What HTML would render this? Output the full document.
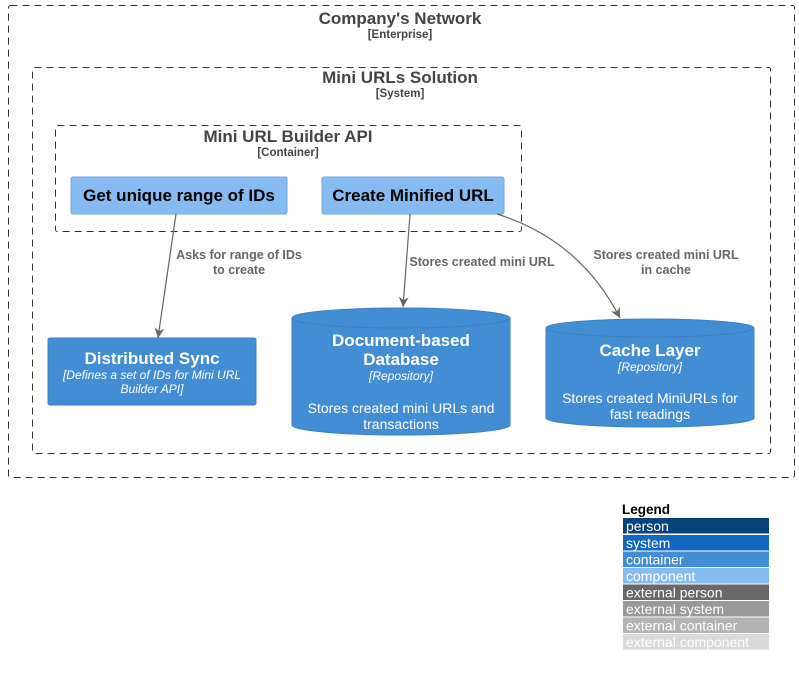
<!DOCTYPE html>
<html><head><style>body{margin:0;background:#fff}svg{display:block}text{font-family:"Liberation Sans","DejaVu Sans",sans-serif}</style></head><body>
<svg width="799" height="675" viewBox="0 0 799 675" xmlns="http://www.w3.org/2000/svg">
<defs><marker id="a" markerWidth="12" markerHeight="12" refX="10" refY="5" orient="auto" markerUnits="userSpaceOnUse"><path d="M0,0 L10,5 L0,10 L3,5 Z" fill="#666"/></marker></defs>
<g fill="none" stroke="#333" stroke-dasharray="7,5">
<rect x="8.5" y="5.5" width="786" height="472" rx="2"/>
<rect x="32.5" y="67.5" width="738" height="386" rx="2"/>
<rect x="55.5" y="125.5" width="466" height="106" rx="2"/>
</g>
<g fill="#444" text-anchor="middle" font-weight="bold">
<text x="400" y="24" font-size="17">Company's Network</text>
<text x="400" y="38" font-size="11.5">[Enterprise]</text>
<text x="400" y="83" font-size="17">Mini URLs Solution</text>
<text x="400" y="97" font-size="11.5">[System]</text>
<text x="288" y="142" font-size="17">Mini URL Builder API</text>
<text x="288" y="156" font-size="11.5">[Container]</text>
</g>
<rect x="71" y="177" width="216" height="37" rx="2" fill="#85bbf0" stroke="#78a8d8"/>
<rect x="322" y="177" width="182" height="37" rx="2" fill="#85bbf0" stroke="#78a8d8"/>
<g font-weight="bold" font-size="17" text-anchor="middle" fill="#000">
<text x="179" y="201">Get unique range of IDs</text>
<text x="413" y="201">Create Minified URL</text>
</g>
<rect x="48" y="338" width="208" height="67" rx="2" fill="#438dd5" stroke="#3c7fc0"/>
<path d="M292,318 L292,425 A109,10 0 0 0 510,425 L510,318 A109,10 0 0 0 292,318 Z" fill="#438dd5" stroke="#3c7fc0"/>
<path d="M292,318 A109,10 0 0 0 510,318" fill="none" stroke="#3c7fc0"/>
<path d="M546,328 L546,418 A104,9 0 0 0 754,418 L754,328 A104,9 0 0 0 546,328 Z" fill="#438dd5" stroke="#3c7fc0"/>
<path d="M546,328 A104,9 0 0 0 754,328" fill="none" stroke="#3c7fc0"/>
<g fill="#fff" text-anchor="middle">
<text x="152" y="364" font-size="17" font-weight="bold">Distributed Sync</text>
<text x="152" y="379" font-size="12" font-style="italic">[Defines a set of IDs for Mini URL</text>
<text x="152" y="393" font-size="12" font-style="italic">Builder API]</text>
<text x="401" y="346" font-size="17" font-weight="bold">Document-based</text>
<text x="401" y="365" font-size="17" font-weight="bold">Database</text>
<text x="401" y="380" font-size="12" font-style="italic">[Repository]</text>
<text x="401" y="413" font-size="14">Stores created mini URLs and</text>
<text x="401" y="429" font-size="14">transactions</text>
<text x="650" y="356" font-size="17" font-weight="bold">Cache Layer</text>
<text x="650" y="371" font-size="12" font-style="italic">[Repository]</text>
<text x="650" y="403" font-size="14">Stores created MiniURLs for</text>
<text x="650" y="419" font-size="14">fast readings</text>
</g>
<g stroke="#666" fill="none" stroke-width="1.2" marker-end="url(#a)">
<path d="M176,214 L158,338"/>
<path d="M410,214 L403,307"/>
<path d="M497,214 Q580,240 620,318"/>
</g>
<g fill="#666" font-size="12.5" font-weight="bold" text-anchor="middle">
<text x="239" y="259">Asks for range of IDs</text>
<text x="239" y="274">to create</text>
<text x="482" y="266">Stores created mini URL</text>
<text x="666" y="259">Stores created mini URL</text>
<text x="666" y="274">in cache</text>
</g>
<text x="622" y="514" font-size="13.5" font-weight="bold" fill="#000">Legend</text>
<g font-size="14" fill="#fff">
<rect x="623" y="518" width="146" height="15.5" fill="#08427b"/><text x="626" y="531">person</text>
<rect x="623" y="535" width="146" height="15.5" fill="#1168bd"/><text x="626" y="548">system</text>
<rect x="623" y="551.5" width="146" height="15.5" fill="#438dd5"/><text x="626" y="564.5">container</text>
<rect x="623" y="568" width="146" height="15.5" fill="#85bbf0"/><text x="626" y="581">component</text>
<rect x="623" y="584.5" width="146" height="15.5" fill="#686868"/><text x="626" y="597.5">external person</text>
<rect x="623" y="601" width="146" height="15.5" fill="#999999"/><text x="626" y="614">external system</text>
<rect x="623" y="617.5" width="146" height="15.5" fill="#b3b3b3"/><text x="626" y="630.5">external container</text>
<rect x="623" y="634" width="146" height="15.5" fill="#d9d9d9"/><text x="626" y="647">external component</text>
</g>
</svg>
</body></html>
